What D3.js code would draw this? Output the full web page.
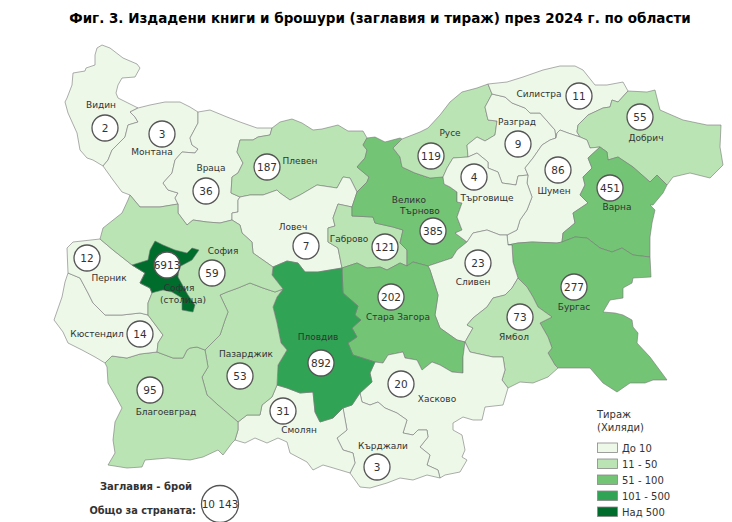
<!DOCTYPE html>
<html>
<head>
<meta charset="utf-8">
<script src="https://cdn.jsdelivr.net/npm/d3@7"></script>
<style>
  html, body { margin: 0; padding: 0; background: #fff; }
  text { font-family: "DejaVu Sans", sans-serif; fill: #333; }
</style>
</head>
<body>
<div id="map"></div>
<script>
//============================= data ============================
var regionNames = ["Видин","Монтана","Враца","Плевен","Ловеч","Габрово","Велико Търново","Русе","Разград","Силистра","Добрич","Шумен","Търговище","Варна","Бургас","Сливен","Ямбол","Стара Загора","Хасково","Кърджали","Смолян","Пловдив","Пазарджик","Благоевград","Кюстендил","Перник","София","София (столица)"];
var titleCounts = [2,3,36,187,7,121,385,119,9,11,55,86,4,451,277,23,73,202,20,3,31,892,53,95,14,12,59,6913];
// class of the print run, index into legendLabels
var printRunClass = [0,0,0,1,0,1,2,1,0,0,1,0,0,2,2,0,1,2,0,0,0,3,1,1,0,0,1,4];

var legendLabels = ["До 10","11 - 50","51 - 100","101 - 500","Над 500"];
var legendColors = ["#edf8e9","#bae4b3","#74c476","#31a354","#006d2c"];
var countryTotal = "10 143";

//============================= map outlines ============================
var arcs = {
  vidinWest: [[138,108],[128,103],[118,98],[116,93],[118,85],[122,78],[135,77],[140,68],[137,64],[123,58],[110,48],[102,45],[97,48],[95,55],[95,65],[86,68],[85,71],[73,73],[72,85],[67,98],[65,102],[68,113],[77,133],[80,150],[87,158],[93,160],[103,166]],
  vidinMontana: [[138,108],[130,112],[135,117],[138,122],[128,125],[125,137],[112,150],[108,160],[103,166]],
  montanaNorth: [[138,108],[150,105],[165,102],[180,102],[190,107],[198,112]],
  montanaVratsa: [[198,112],[198,123],[190,138],[192,145],[198,149],[195,153],[182,152],[175,160],[172,173],[163,183],[168,190],[178,193],[175,198],[178,204]],
  montanaSofia: [[178,204],[160,207],[140,207],[130,195]],
  montanaWest: [[130,195],[122,192],[113,180],[103,166]],
  vratsaNorth: [[198,112],[210,110],[227,117],[240,122],[257,128],[272,128]],
  vratsaPleven: [[272,128],[270,135],[258,137],[253,140],[240,140],[237,152],[243,163],[238,173],[232,177],[231,193],[240,197]],
  vratsaLovech: [[240,197],[238,200],[238,212],[232,213],[232,220]],
  vratsaSofia: [[232,220],[220,223],[207,222],[193,220],[187,225],[178,213],[178,204]],
  plevenNorth: [[272,128],[280,122],[292,119],[302,123],[313,130],[322,129],[338,125],[348,131],[363,131],[367,138]],
  plevenVT: [[367,138],[363,145],[367,150],[365,158],[357,167],[369,177],[367,182],[357,192]],
  plevenLovech: [[357,192],[350,178],[343,177],[337,188],[317,185],[300,195],[290,200],[280,193],[277,190],[263,195],[250,195],[240,197]],
  lovechVT: [[357,192],[352,207]],
  lovechGabrovo: [[352,207],[338,204],[333,218],[335,226],[328,228],[328,242],[338,248],[342,268]],
  lovechPlovdiv: [[342,268],[318,272],[305,272],[298,263],[287,261],[273,267]],
  lovechSofia: [[273,267],[253,253],[252,242],[242,233],[240,225],[232,220]],
  gabrovoVT: [[352,207],[352,216],[373,217],[375,223],[393,227],[403,230],[400,243],[407,250],[407,266]],
  gabrovoStZ: [[407,266],[400,263],[387,270],[380,267],[367,268],[357,263],[342,268]],
  vtNorth: [[367,138],[375,137],[385,142],[400,138],[402,139]],
  vtRuse: [[402,139],[393,148],[400,157],[402,167],[415,173],[430,178],[443,177]],
  vtTarg: [[443,177],[444,184],[450,187],[457,192],[457,202],[462,203],[457,217],[462,230],[455,233],[467,242]],
  vtSliven: [[467,242],[457,250],[452,258],[428,266]],
  vtStZ: [[428,266],[413,262],[407,266]],
  ruseNorth: [[402,139],[420,132],[428,128],[440,115],[450,102],[462,92],[477,88],[488,84],[492,94]],
  ruseRazgrad: [[492,94],[485,107],[488,120],[497,121],[495,135],[485,141],[477,137],[467,145],[468,157]],
  ruseTarg: [[468,157],[453,158],[447,168],[443,177]],
  silistraNorth: [[488,84],[507,82],[523,77],[543,70],[560,66],[575,66],[583,70],[595,85],[607,85],[623,82],[628,91]],
  silistraDobrich: [[628,91],[618,102],[612,100],[610,107],[603,108],[588,115],[578,125],[577,132],[580,137]],
  silistraShumen: [[580,137],[568,133],[560,130],[557,133],[556,138]],
  silistraRazgrad: [[492,94],[505,97],[512,103],[525,108],[530,113],[540,113],[555,130],[556,138]],
  razgradShumen: [[556,138],[550,140],[542,145],[533,158],[525,168],[528,175]],
  razgradTarg: [[528,175],[518,176],[516,185],[502,183],[498,172],[488,168],[488,162],[477,153],[468,157]],
  targShumen: [[528,175],[527,183],[532,197],[527,210],[520,220],[517,230],[507,235]],
  targSliven: [[507,235],[500,235],[487,230],[473,233],[467,242]],
  shumenDobrich: [[580,137],[587,140],[590,148],[600,147]],
  shumenVarna: [[600,147],[588,158],[592,168],[583,177],[585,185],[580,195],[588,203],[573,213],[575,223],[563,233],[562,242]],
  shumenBurgas: [[562,242],[557,243],[532,242],[518,243],[508,245]],
  shumenSliven: [[508,245],[507,235]],
  dobrichVarna: [[600,147],[607,152],[608,160],[618,157],[633,167],[650,182],[657,175],[667,185]],
  dobrichCoast: [[667,185],[673,177],[690,173],[710,178],[723,165],[720,147],[721,125],[707,125],[683,120],[660,110],[655,90],[647,92],[628,91]],
  varnaCoast: [[667,185],[663,193],[653,205],[650,205],[655,210],[652,223],[650,237],[650,257]],
  varnaBurgas: [[650,257],[633,255],[622,248],[612,252],[600,248],[587,238],[575,237],[562,242]],
  burgasCoast: [[650,257],[651,277],[633,278],[632,283],[623,288],[623,298],[610,300],[603,312],[615,313],[623,315],[632,320],[633,327],[638,333],[637,343],[650,357],[667,380],[653,380],[645,383],[630,383],[617,392],[603,383],[590,368],[558,368]],
  burgasYambol: [[558,368],[555,365],[548,353],[552,348],[548,337],[540,323],[552,317],[538,307],[533,297],[527,287],[518,278]],
  burgasSliven: [[518,278],[513,262],[512,245],[508,245]],
  slivenYambol: [[518,278],[512,288],[505,295],[493,298],[487,307],[473,318],[467,325],[473,328],[465,342]],
  slivenStZ: [[465,342],[457,340],[440,328],[435,315],[438,295],[430,270],[428,266]],
  stzHaskovo: [[465,342],[463,357],[463,373],[452,372],[440,365],[432,362],[422,370],[417,360],[405,358],[403,352],[388,355],[383,363],[375,362]],
  plovdivStZ: [[375,362],[353,355],[348,343],[357,337],[352,328],[361,320],[355,315],[358,306],[343,293],[342,268]],
  yambolSouth: [[558,368],[548,377],[533,383],[520,382],[508,388]],
  haskovoYambol: [[508,388],[502,380],[505,370],[503,357],[493,357],[470,352],[465,342]],
  plovdivHaskovo: [[375,362],[370,373],[372,382],[360,393]],
  kardzhaliHaskovo: [[360,393],[362,402],[370,405],[378,402],[385,408],[397,413],[407,420],[403,433],[413,435],[418,430],[427,430],[428,437],[420,447],[430,455],[427,465],[438,470],[440,478]],
  haskovoSouth: [[440,478],[445,475],[460,472],[467,460],[462,457],[465,450],[462,435],[453,430],[453,423],[463,417],[473,420],[482,420],[485,407],[503,405],[508,388]],
  kardzhaliSouth: [[440,478],[427,475],[413,480],[400,478],[387,483],[370,488],[360,487],[350,473]],
  kardzhaliSmolyan: [[350,473],[355,463],[353,453],[343,450],[337,438],[347,430],[343,408]],
  plovdivKardzhali: [[343,408],[352,405],[360,393]],
  plovdivSmolyan: [[277,385],[287,388],[300,393],[313,392],[315,412],[320,422],[333,418],[343,408]],
  smolyanSouth: [[350,473],[330,467],[323,465],[313,470],[307,462],[290,453],[287,442],[278,438],[267,443],[255,438],[245,443],[235,440]],
  blagSmolyan: [[235,440],[238,430],[238,422]],
  pazSmolyan: [[238,422],[247,415],[260,415],[262,405],[272,397],[277,385]],
  pazPlovdiv: [[277,385],[278,365],[287,350],[281,343],[277,323],[273,307],[277,297],[283,289]],
  sofiaPlovdiv: [[283,289],[272,275],[273,267]],
  sofiaPaz: [[205,350],[220,335],[225,320],[228,312],[220,295],[227,292],[238,288],[250,283],[263,288],[275,292],[283,289]],
  blagPaz: [[238,422],[218,405],[207,395],[202,377],[208,367],[205,350]],
  blagKyu: [[105,363],[112,356],[127,358],[140,354],[157,352]],
  blagSofia: [[157,352],[173,358],[183,358],[187,350],[190,348],[197,347],[205,350]],
  blagSouth: [[235,440],[232,443],[223,455],[218,450],[203,457],[190,460],[168,458],[145,460],[142,467],[127,468],[108,465],[115,453],[113,440],[115,422],[122,408],[115,395],[108,383],[107,367],[105,363]],
  kyuWest: [[105,363],[95,357],[82,350],[68,343],[63,332],[54,320],[62,297],[65,282],[68,273]],
  kyuPernik: [[68,273],[80,278],[88,293],[93,303],[105,315],[122,315],[140,313],[148,315]],
  kyuSofia: [[148,315],[157,327],[163,335],[158,343],[157,352]],
  pernikNorth: [[100,239],[73,242],[67,248],[68,273]],
  pernikSofiaS: [[148,315],[148,303],[152,293]],
  pernikGrad: [[152,293],[150,288],[140,283],[145,273],[132,265]],
  pernikSofiaN: [[132,265],[113,250],[100,239]],
  sofiaWest: [[130,195],[128,200],[122,213],[103,228],[100,239]],
  gradRest: [[132,265],[148,260],[150,250],[155,241],[163,245],[175,250],[187,253],[192,248],[199,250],[192,260],[179,267],[178,277],[188,295],[195,305],[193,312],[182,310],[182,298],[172,292],[163,290],[155,292],[152,293]]
};

// each region is a ring of arcs, a leading "-" walks the arc backwards
var regionRings = [
  ["vidinWest","-vidinMontana"],
  ["montanaNorth","montanaVratsa","montanaSofia","montanaWest","-vidinMontana"],
  ["vratsaNorth","vratsaPleven","vratsaLovech","vratsaSofia","-montanaVratsa"],
  ["plevenNorth","plevenVT","plevenLovech","-vratsaPleven"],
  ["-plevenLovech","lovechVT","lovechGabrovo","lovechPlovdiv","lovechSofia","-vratsaLovech"],
  ["gabrovoVT","gabrovoStZ","-lovechGabrovo"],
  ["vtNorth","vtRuse","vtTarg","vtSliven","vtStZ","-gabrovoVT","-lovechVT","-plevenVT"],
  ["ruseNorth","ruseRazgrad","ruseTarg","-vtRuse"],
  ["silistraRazgrad","razgradShumen","razgradTarg","-ruseRazgrad"],
  ["silistraNorth","silistraDobrich","silistraShumen","-silistraRazgrad"],
  ["silistraDobrich","shumenDobrich","dobrichVarna","dobrichCoast"],
  ["-razgradShumen","-silistraShumen","shumenDobrich","shumenVarna","shumenBurgas","shumenSliven","-targShumen"],
  ["-razgradTarg","targShumen","targSliven","-vtTarg","-ruseTarg"],
  ["dobrichVarna","varnaCoast","varnaBurgas","-shumenVarna"],
  ["-varnaBurgas","burgasCoast","burgasYambol","burgasSliven","-shumenBurgas"],
  ["-targSliven","-shumenSliven","-burgasSliven","slivenYambol","slivenStZ","-vtSliven"],
  ["-slivenYambol","-burgasYambol","yambolSouth","haskovoYambol"],
  ["-gabrovoStZ","-vtStZ","-slivenStZ","stzHaskovo","plovdivStZ"],
  ["haskovoYambol","stzHaskovo","plovdivHaskovo","kardzhaliHaskovo","haskovoSouth"],
  ["kardzhaliHaskovo","kardzhaliSouth","kardzhaliSmolyan","plovdivKardzhali"],
  ["plovdivSmolyan","-kardzhaliSmolyan","smolyanSouth","blagSmolyan","pazSmolyan"],
  ["-lovechPlovdiv","-plovdivStZ","plovdivHaskovo","-plovdivKardzhali","-plovdivSmolyan","pazPlovdiv","sofiaPlovdiv"],
  ["sofiaPaz","-pazPlovdiv","-pazSmolyan","blagPaz"],
  ["blagKyu","blagSofia","-blagPaz","-blagSmolyan","blagSouth"],
  ["-blagKyu","kyuWest","kyuPernik","kyuSofia"],
  ["pernikNorth","kyuPernik","pernikSofiaS","pernikGrad","pernikSofiaN"],
  ["sofiaWest","-pernikSofiaN","-pernikGrad","-pernikSofiaS","kyuSofia","blagSofia","sofiaPaz","sofiaPlovdiv","lovechSofia","vratsaSofia","montanaSofia"],
  ["gradRest","pernikGrad"]
];

// where the bubble and the name of each region sit, same order as regionNames
var bubbleAt = [[105,128],[162,134],[206,191],[267,167],[306,246],[385,247],[433,231],[431,156],[518,144],[579,96],[640,117],[558,170],[474,177],[610,188],[574,287],[478,263],[520,317],[391,297],[401,384],[377,467],[283,411],[321,363],[240,376],[150,390],[140,334],[87,258],[212,273],[167,265]];
var nameAt = [[101,105],[152,152],[211,168],[300,161],[293,227],[349,239],[409,200],[450,133],[517,122],[539,94],[646,138],[554,191],[487,198],[617,207],[574,307],[473,282],[514,337],[398,317],[437,399],[383,446],[299,430],[318,337],[246,354],[166,412],[97,334],[109,278],[223,251],[171,288]];
var nameLines = {"Велико Търново": ["Велико","Търново"], "София (столица)": ["София","(столица)"]};
var nameLineStep = {"Велико Търново": [0,11], "София (столица)": [8,12]};

//============================= draw ============================
var svg = d3.select("#map").append("svg")
    .attr("width",732)
    .attr("height",522)
    .style("display","block");

svg.append("text")
    .attr("x",380)
    .attr("y",23)
    .attr("text-anchor","middle")
    .attr("font-size",13.5)
    .attr("font-weight","bold")
    .style("fill","#000")
    .text("Фиг. 3. Издадени книги и брошури (заглавия и тираж) през 2024 г. по области");

var classColor = d3.scaleOrdinal()
    .domain(d3.range(legendLabels.length))
    .range(legendColors);

var line = d3.line().curve(d3.curveLinearClosed);

function ringPoints(ring) {
    var pts = [];
    ring.forEach(function(name) {
        var back = name[0] === "-";
        var a = arcs[back ? name.slice(1) : name].slice();
        if (back) a.reverse();
        pts = pts.concat(a.slice(pts.length ? 1 : 0));
    });
    return pts;
}

svg.append("g").selectAll("path")
    .data(regionNames)
    .enter().append("path")
    .attr("d", function(d,i) { return line(ringPoints(regionRings[i])); })
    .attr("fill", function(d,i) { return classColor(printRunClass[i]); })
    .attr("stroke","#777")
    .attr("stroke-width",0.6)
    .attr("stroke-linejoin","round");

svg.append("g").selectAll("circle")
    .data(titleCounts)
    .enter().append("circle")
    .attr("cx", function(d,i) { return bubbleAt[i][0]; })
    .attr("cy", function(d,i) { return bubbleAt[i][1]; })
    .attr("r",13)
    .attr("fill","#fff")
    .attr("stroke","#555")
    .attr("stroke-width",1.3);

svg.append("g").selectAll("text")
    .data(titleCounts)
    .enter().append("text")
    .attr("x", function(d,i) { return bubbleAt[i][0]; })
    .attr("y", function(d,i) { return bubbleAt[i][1] + 3.7; })
    .attr("text-anchor","middle")
    .attr("font-size",10.5)
    .text(function(d) { return d; });

// region names, the two long ones go on two lines
var names = svg.append("g").selectAll("text")
    .data(regionNames)
    .enter().append("text")
    .attr("font-size",9)
    .attr("text-anchor","middle");

names.each(function(d,i) {
    var lines = nameLines[d] || [d];
    var step = nameLineStep[d] || [0];
    var t = d3.select(this);
    lines.forEach(function(l,k) {
        t.append("tspan")
            .attr("x", nameAt[i][0] + step[k])
            .attr("y", nameAt[i][1] + 3.2 + (k ? step[1] : 0))
            .text(l);
    });
});

// legend
var legend = svg.append("g");
legend.append("text").attr("x",597).attr("y",418).attr("font-size",10).text("Тираж");
legend.append("text").attr("x",597).attr("y",431).attr("font-size",10).text("(Хиляди)");

var legendY = d3.scalePoint()
    .domain(legendLabels)
    .range([443,507]);

legend.selectAll("rect")
    .data(legendLabels)
    .enter().append("rect")
    .attr("x",597.5)
    .attr("y", function(d) { return legendY(d); })
    .attr("width",20)
    .attr("height",9.5)
    .attr("fill", function(d,i) { return legendColors[i]; })
    .attr("stroke","#888")
    .attr("stroke-width",0.8);

legend.selectAll("text.item")
    .data(legendLabels)
    .enter().append("text")
    .attr("class","item")
    .attr("x",622)
    .attr("y", function(d) { return legendY(d) + 9; })
    .attr("font-size",10)
    .text(function(d) { return d; });

// total for the country
svg.append("text")
    .attr("x",146).attr("y",490)
    .attr("text-anchor","middle")
    .attr("font-size",10)
    .attr("font-weight","bold")
    .text("Заглавия - брой");
svg.append("text")
    .attr("x",196).attr("y",514)
    .attr("text-anchor","end")
    .attr("font-size",9.8)
    .attr("font-weight","bold")
    .text("Общо за страната:");
svg.append("circle")
    .attr("cx",220).attr("cy",504)
    .attr("r",18.5)
    .attr("fill","#fff")
    .attr("stroke","#555")
    .attr("stroke-width",1.3);
svg.append("text")
    .attr("x",220).attr("y",508)
    .attr("text-anchor","middle")
    .attr("font-size",10.5)
    .text(countryTotal);
</script>
</body>
</html>
